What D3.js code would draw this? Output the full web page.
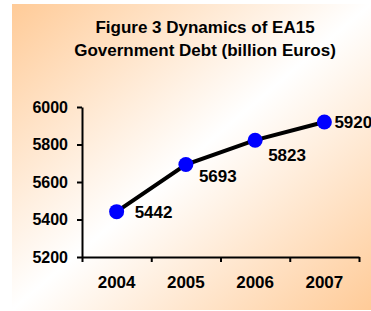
<!DOCTYPE html>
<html>
<head>
<meta charset="utf-8">
<script src="https://cdn.jsdelivr.net/npm/d3@7"></script>
<style>
  html, body { margin: 0; padding: 0; background: #fff; }
  svg text { font-family: "Liberation Sans", Arial, sans-serif; font-weight: bold; fill: #000; }
</style>
</head>
<body>
<svg id="chart"></svg>
<script>
// chart data
const years = ['2004', '2005', '2006', '2007'];
const debt = [5442, 5693, 5823, 5920];
const yTicks = [5200, 5400, 5600, 5800, 6000];
const titleLines = ['Figure 3 Dynamics of EA15', 'Government Debt (billion Euros)'];

const width = 371;
const height = 311;
const margin = { top: 107, right: 12, bottom: 54, left: 82 };

const svg = d3.select('#chart')
    .attr('width', width)
    .attr('height', height);

// peach -> white -> peach diagonal background
const grad = svg.append('defs').append('linearGradient')
    .attr('id', 'bg')
    .attr('x1', 0).attr('y1', 0)
    .attr('x2', 1).attr('y2', 1);
grad.append('stop').attr('offset', '0%').attr('stop-color', '#ffcb98');
grad.append('stop').attr('offset', '50%').attr('stop-color', '#ffffff');
grad.append('stop').attr('offset', '100%').attr('stop-color', '#ffcb98');

svg.append('rect')
   .attr('x', 12).attr('y', 4)
   .attr('width', width - 12).attr('height', 306)
   .attr('fill', 'url(#bg)');

// title
svg.append('text')
   .attr('text-anchor', 'middle')
   .style('font-size', '17px')
   .selectAll('tspan')
   .data(titleLines)
   .enter()
   .append('tspan')
   .attr('x', 205)
   .attr('y', (d, i) => 33 + i * 23)
   .text(d => d);

const x = d3.scaleBand()
    .domain(years)
    .range([margin.left, width - margin.right]);

const xEdge = d3.scaleLinear()
    .domain([0, years.length])
    .range([margin.left, width - margin.right]);

const y = d3.scaleLinear()
    .domain([5200, 6000])
    .range([height - margin.bottom, margin.top]);

// Y axis
const yAxis = svg.append('g')
    .attr('transform', `translate(${margin.left},0)`)
    .call(d3.axisLeft(y).tickValues(yTicks).tickFormat(d3.format('d'))
        .tickSize(5).tickPadding(9).tickSizeOuter(0));
yAxis.select('.domain').attr('stroke', '#000').attr('stroke-width', 2);
yAxis.selectAll('line').attr('stroke', '#000').attr('stroke-width', 2);
yAxis.selectAll('text').style('font-size', '16px').attr('font-family', null);

// X axis, ticks between categories
const xAxis = svg.append('g')
    .attr('transform', `translate(0,${height - margin.bottom})`)
    .call(d3.axisBottom(xEdge).tickValues(d3.range(years.length + 1)).tickFormat('').tickSize(5).tickSizeOuter(0));
xAxis.select('.domain').attr('stroke', '#000').attr('stroke-width', 2);
xAxis.selectAll('line').attr('stroke', '#000').attr('stroke-width', 2);

svg.append('g')
   .selectAll('text')
   .data(years)
   .enter()
   .append('text')
   .attr('x', d => x(d) + x.bandwidth() / 2)
   .attr('y', height - margin.bottom + 31)
   .attr('text-anchor', 'middle')
   .style('font-size', '17px')
   .text(d => d);

// line
const line = d3.line()
    .x((d, i) => x(years[i]) + x.bandwidth() / 2)
    .y(d => y(d));

svg.append('path')
   .datum(debt)
   .attr('fill', 'none')
   .attr('stroke', '#000')
   .attr('stroke-width', 4)
   .attr('d', line);

svg.selectAll('.dot')
   .data(debt)
   .enter()
   .append('circle')
   .attr('class', 'dot')
   .attr('cx', (d, i) => x(years[i]) + x.bandwidth() / 2)
   .attr('cy', d => y(d))
   .attr('r', 7.5)
   .attr('fill', '#0000ff');

// data labels (placed like the original, some right, some below-right)
const labelShift = [[18, 0], [13, 11], [13, 15], [10, 0]];
svg.selectAll('.lbl')
   .data(debt)
   .enter()
   .append('text')
   .attr('class', 'lbl')
   .attr('x', (d, i) => x(years[i]) + x.bandwidth() / 2 + labelShift[i][0])
   .attr('y', (d, i) => y(d) + labelShift[i][1])
   .attr('dy', '0.36em')
   .style('font-size', '17px')
   .text(d => d);
</script>
</body>
</html>
